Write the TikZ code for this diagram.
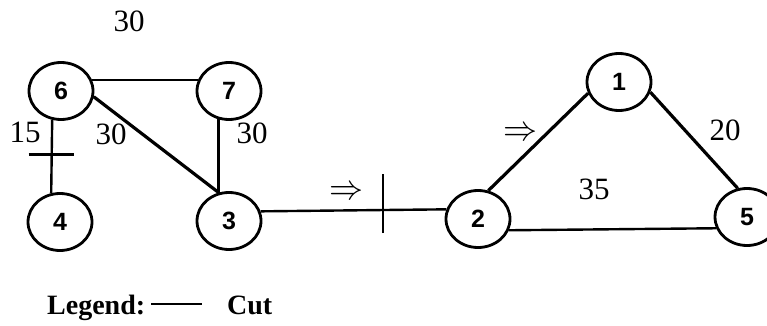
\documentclass[tikz,border=0pt]{standalone}
\usepackage{fontspec}
\setmainfont{Liberation Serif}
\newfontfamily\nodefont{Liberation Sans}
\usetikzlibrary{shapes.geometric}
\tikzset{
  vert/.style={draw, ellipse, line width=2.8pt, minimum width=64pt, minimum height=57pt, inner sep=0pt, font=\nodefont\bfseries\fontsize{25}{25}\selectfont},
  edge/.style={line width=3.2pt},
  thinedge/.style={line width=2.4pt},
  wlab/.style={font=\fontsize{31}{31}\selectfont, inner sep=0pt},
  leglab/.style={font=\bfseries\fontsize{28}{28}\selectfont, inner sep=0pt, anchor=base west},
  arr/.style={inner sep=0pt}
}
\newcommand{\flowarrow}{\resizebox{34pt}{13pt}{$\boldsymbol{\Rightarrow}$}}
\providecommand{\boldsymbol}[1]{#1}
\begin{document}
\begin{tikzpicture}[x=1pt, y=-1pt]
\useasboundingbox (0,0) rectangle (767,326);
% vertices
\node[vert] (n6) at (61,91) {6};
\node[vert] (n7) at (229,91) {7};
\node[vert] (n4) at (60,222) {4};
\node[vert] (n3) at (229,221) {3};
\node[vert] (n2) at (478,219) {2};
\node[vert] (n1) at (619,82) {1};
\node[vert] (n5) at (747,217) {5};
% edges
\draw[thinedge] (n6.20) -- (n7.160);
\draw[edge] (n6.-10) -- (n3.110);
\draw[thinedge] (n7.-110) -- (n3.110);
\draw[thinedge] (n6.-107) -- coordinate[pos=0.47] (c64) (n4.107);
\draw[thinedge] (n3.17) -- coordinate[pos=0.66] (c32) (n2.163);
\draw[edge] (n2.70) -- (n1.200);
\draw[edge] (n1.-18) -- (n5.108);
\draw[thinedge] (n2.-20) -- (n5.200);
% cuts
\draw[thinedge] ([xshift=-23pt]c64) -- ([xshift=22pt]c64);
\draw[thinedge] ([yshift=-23pt]c32) -- ([yshift=36pt]c32);
% labels
\node[wlab] (l30a) at (129,21) {30};
\node[wlab] (l15) at (25,132) {15};
\node[wlab] (l30b) at (111,134) {30};
\node[wlab] (l30c) at (252,133) {30};
\node[wlab] (l20) at (725,130) {20};
\node[wlab] (l35) at (594,189) {35};
\node[arr] (a1) at (346,193) {\flowarrow};
\node[arr] (a2) at (520,134) {\flowarrow};
% legend
\node[leglab] (leg) at (47,314) {Legend:};
\coordinate (ls) at (151,304);
\coordinate (le) at (202,304);
\draw[line width=2.4pt] (ls) -- (le);
\node[leglab] (cut) at (227,314) {Cut};
\end{tikzpicture}
\end{document}
